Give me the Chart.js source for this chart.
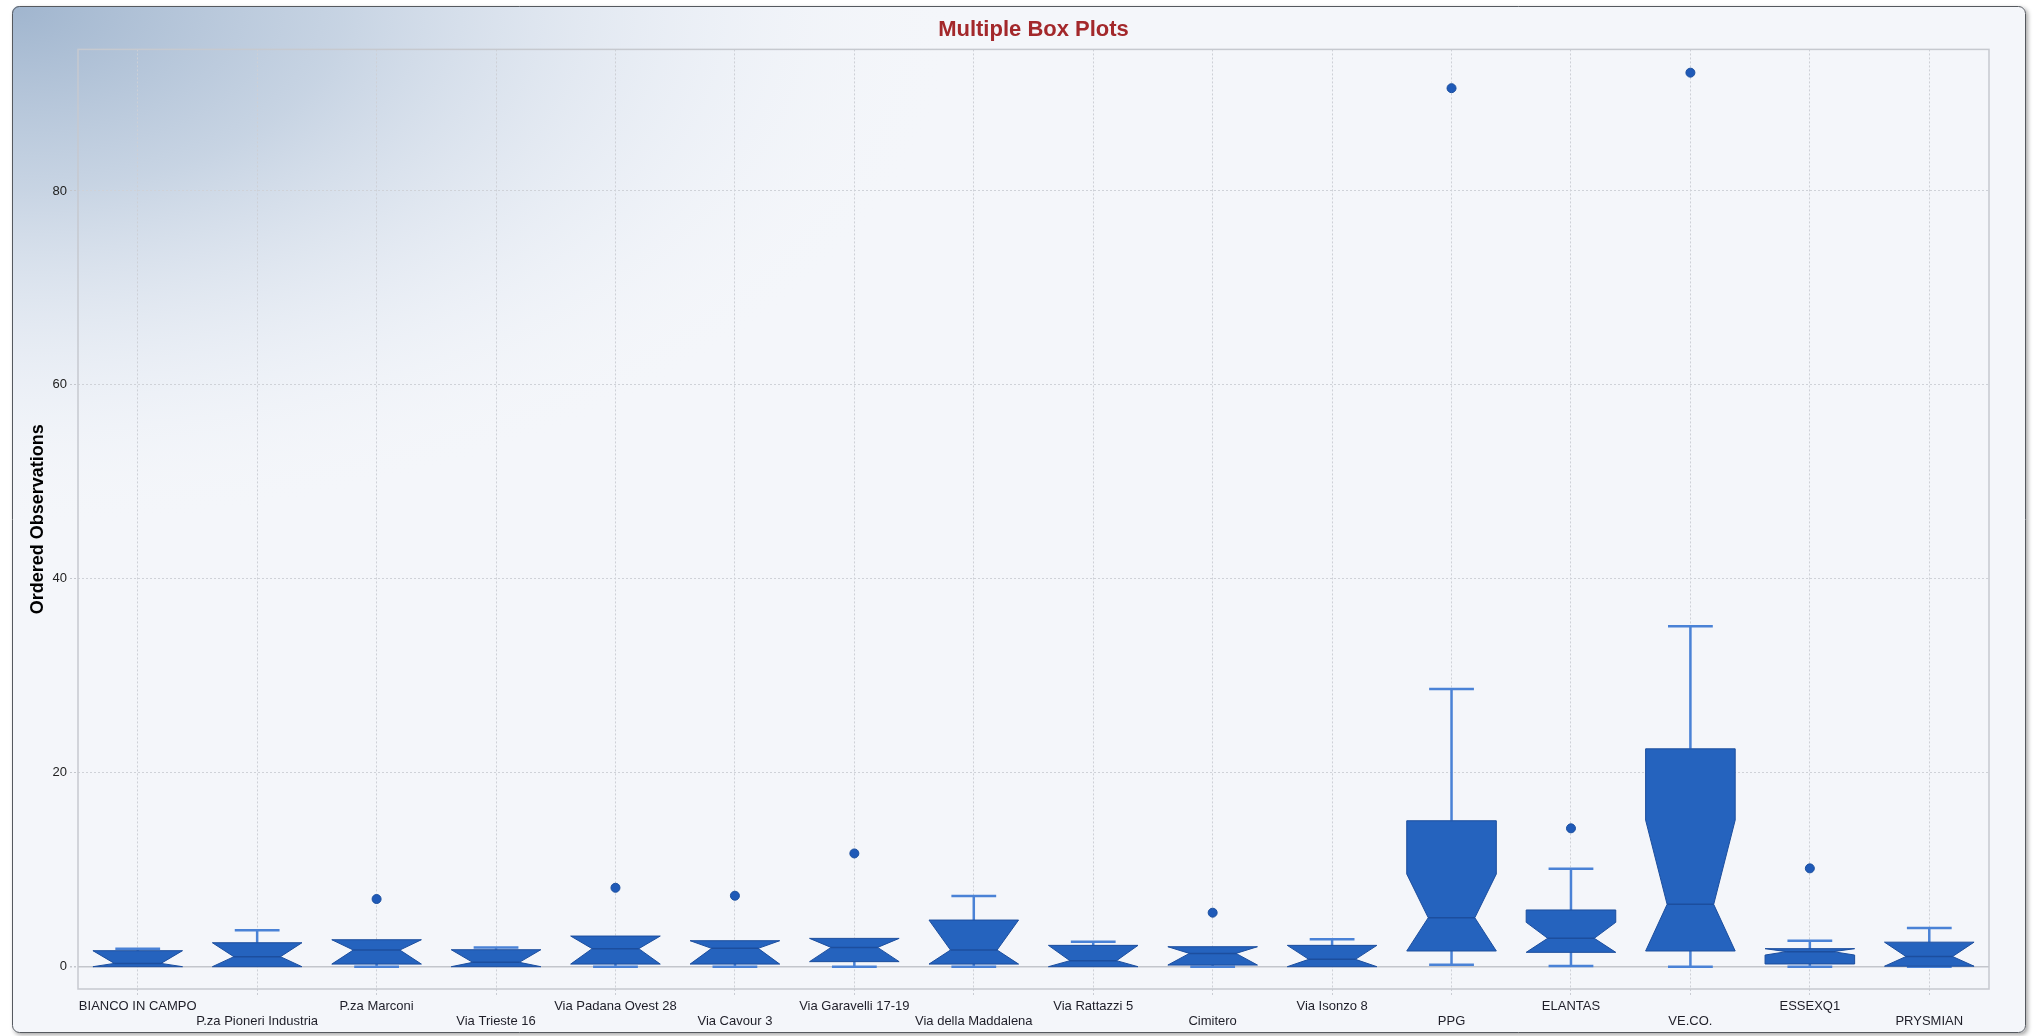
<!DOCTYPE html>
<html>
<head>
<meta charset="utf-8">
<title>Multiple Box Plots</title>
<script src="https://cdn.jsdelivr.net/npm/chart.js@4.4.1/dist/chart.umd.min.js"></script>
<style>
  html, body { margin: 0; padding: 0; background: #ffffff; }
  #wrap { position: relative; width: 2034px; height: 1036px; }
</style>
</head>
<body>
<div id="wrap"><canvas id="boxChart"></canvas></div>
<script>
// Sites, left to right
const categories = [
    'BIANCO IN CAMPO', 'P.za Pioneri Industria', 'P.za Marconi', 'Via Trieste 16',
    'Via Padana Ovest 28', 'Via Cavour 3', 'Via Garavelli 17-19', 'Via della Maddalena',
    'Via Rattazzi 5', 'Cimitero', 'Via Isonzo 8', 'PPG', 'ELANTAS', 'VE.CO.', 'ESSEXQ1', 'PRYSMIAN'
];

// Box plot statistics
const whiskerLow  = [0, 0, 0, 0, 0, 0, 0, 0, 0, 0, 0, 0.21, 0.07, 0, 0, 0];
const q1          = [0, 0, 0.27, 0, 0.27, 0.27, 0.52, 0.27, 0, 0.17, 0, 1.62, 1.48, 1.62, 0.28, 0.05];
const notchLow    = [0, 0, 0.27, 0, 0.27, 0.27, 0.52, 0.27, 0, 0.17, 0, 1.62, 1.48, 1.62, 1.2, 0.05];
const median      = [0.34, 1.03, 1.72, 0.45, 1.86, 1.89, 1.99, 1.72, 0.62, 1.37, 0.76, 5.05, 2.93, 6.43, 1.55, 1.05];
const notchHigh   = [1.65, 2.47, 2.78, 1.75, 3.16, 2.68, 2.92, 4.81, 2.2, 2.06, 2.2, 9.56, 4.58, 15.12, 1.86, 2.53];
const q3          = [1.65, 2.47, 2.78, 1.75, 3.16, 2.68, 2.92, 4.81, 2.2, 2.06, 2.2, 15.05, 5.85, 22.47, 1.86, 2.53];
const whiskerHigh = [1.86, 3.75, 2.78, 1.99, 3.16, 2.68, 2.92, 7.29, 2.58, 2.06, 2.82, 28.63, 10.1, 35.12, 2.68, 3.99];
const outliers    = [null, null, 6.98, null, 8.14, 7.32, 11.68, null, null, 5.57, null, 90.6, 14.27, 92.2, 10.14, null];

// Y axis ticks
const yTicks = [0, 20, 40, 60, 80];

const boxFill = '#2563be';
const boxEdge = '#1c4e9e';
const whiskerColor = '#4a82d6';

// Background: framed panel with a soft blue gradient from the top-left corner
const panelBackground = {
    id: 'panelBackground',
    beforeDraw(chart) {
        const ctx = chart.ctx;
        const x0 = 12, y0 = 6, x1 = 2026, y1 = 1033, r = 7;
        ctx.save();
        ctx.beginPath();
        ctx.roundRect(x0, y0, x1 - x0, y1 - y0, r);
        ctx.shadowColor = 'rgba(0,0,0,0.35)';
        ctx.shadowBlur = 4;
        ctx.shadowOffsetX = 2;
        ctx.shadowOffsetY = 2;
        ctx.fillStyle = '#f4f6fa';
        ctx.fill();
        ctx.shadowColor = 'transparent';
        ctx.clip();
        // elliptical glow from the corner
        ctx.save();
        ctx.translate(x0, y0);
        ctx.scale(1, 0.55);
        const g = ctx.createRadialGradient(0, 0, 0, 0, 0, 950);
        g.addColorStop(0, 'rgba(160,181,206,1)');
        g.addColorStop(0.35, 'rgba(193,207,224,0.88)');
        g.addColorStop(0.75, 'rgba(228,234,243,0.45)');
        g.addColorStop(1, 'rgba(244,246,250,0)');
        ctx.fillStyle = g;
        ctx.fillRect(0, 0, 1100, 1100);
        ctx.restore();
        ctx.restore();
        ctx.save();
        ctx.beginPath();
        ctx.roundRect(x0 + 0.5, y0 + 0.5, x1 - x0 - 1, y1 - y0 - 1, r);
        ctx.strokeStyle = '#55595f';
        ctx.lineWidth = 1;
        ctx.stroke();
        ctx.restore();
    },
    afterDraw(chart) {
        const a = chart.chartArea;
        const ctx = chart.ctx;
        ctx.save();
        ctx.strokeStyle = '#c6c9cf';
        ctx.lineWidth = 1.5;
        ctx.strokeRect(a.left, a.top, a.right - a.left, a.bottom - a.top);
        ctx.restore();
    }
};

// Notched boxes and whiskers, placed on the bar elements of the box dataset
const notchedBoxes = {
    id: 'notchedBoxes',
    beforeDatasetsDraw(chart) {
        const ctx = chart.ctx;
        const y = chart.scales.y;
        const meta = chart.getDatasetMeta(0);
        meta.data.forEach((bar, i) => {
            const cx = bar.x;
            const hw = bar.width / 2;
            const ind = hw * 0.48;
            const py = v => y.getPixelForValue(v);

            // whiskers
            ctx.save();
            ctx.strokeStyle = whiskerColor;
            ctx.lineWidth = 2.5;
            ctx.beginPath();
            if (whiskerHigh[i] > q3[i]) {
                ctx.moveTo(cx, py(q3[i]));
                ctx.lineTo(cx, py(whiskerHigh[i]));
                ctx.moveTo(cx - hw / 2, py(whiskerHigh[i]));
                ctx.lineTo(cx + hw / 2, py(whiskerHigh[i]));
            }
            if (whiskerLow[i] < q1[i]) {
                ctx.moveTo(cx, py(q1[i]));
                ctx.lineTo(cx, py(whiskerLow[i]));
                ctx.moveTo(cx - hw / 2, py(whiskerLow[i]));
                ctx.lineTo(cx + hw / 2, py(whiskerLow[i]));
            }
            ctx.stroke();
            ctx.restore();

            // notched box
            ctx.save();
            ctx.beginPath();
            ctx.moveTo(cx - hw, py(q3[i]));
            ctx.lineTo(cx + hw, py(q3[i]));
            ctx.lineTo(cx + hw, py(notchHigh[i]));
            ctx.lineTo(cx + hw - ind, py(median[i]));
            ctx.lineTo(cx + hw, py(notchLow[i]));
            ctx.lineTo(cx + hw, py(q1[i]));
            ctx.lineTo(cx - hw, py(q1[i]));
            ctx.lineTo(cx - hw, py(notchLow[i]));
            ctx.lineTo(cx - hw + ind, py(median[i]));
            ctx.lineTo(cx - hw, py(notchHigh[i]));
            ctx.closePath();
            ctx.fillStyle = boxFill;
            ctx.fill();
            ctx.strokeStyle = boxEdge;
            ctx.lineWidth = 1;
            ctx.stroke();
            // median
            ctx.beginPath();
            ctx.moveTo(cx - hw + ind, py(median[i]));
            ctx.lineTo(cx + hw - ind, py(median[i]));
            ctx.strokeStyle = boxEdge;
            ctx.lineWidth = 1.5;
            ctx.stroke();
            ctx.restore();
        });
    }
};

Chart.defaults.font.family = "'Liberation Sans', Arial, sans-serif";

new Chart(document.getElementById('boxChart'), {
    type: 'bar',
    data: {
        labels: categories,
        datasets: [
            {
                label: 'Box',
                data: categories.map((_, i) => [q1[i], q3[i]]),
                backgroundColor: 'rgba(0,0,0,0)',
                borderWidth: 0,
                barPercentage: 0.75,
                categoryPercentage: 1.0
            },
            {
                type: 'line',
                label: 'Outliers',
                data: outliers,
                showLine: false,
                pointRadius: 4.5,
                pointHoverRadius: 4.5,
                pointBackgroundColor: '#1f5ab8',
                pointBorderColor: '#1b4f9f',
                pointBorderWidth: 1
            }
        ]
    },
    options: {
        responsive: true,
        maintainAspectRatio: false,
        animation: false,
        layout: { padding: { left: 14, right: 45, top: 0, bottom: 4 } },
        plugins: {
            legend: { display: false },
            tooltip: { enabled: false },
            title: {
                display: true,
                text: 'Multiple Box Plots',
                fullSize: false,
                color: '#a3282b',
                font: { size: 22, weight: 'bold' },
                padding: { top: 17, bottom: 6 }
            }
        },
        scales: {
            x: {
                offset: true,
                grid: {
                    offset: false,
                    color: '#cdd0d6',
                    tickLength: 8,
                    tickBorderDash: [2, 2],
                    tickColor: '#c9ccd3'
                },
                border: { display: false, dash: [2, 2] },
                ticks: {
                    autoSkip: false,
                    maxRotation: 0,
                    minRotation: 0,
                    padding: 2,
                    color: '#1e1e28',
                    font: { size: 13, lineHeight: 1.15 },
                    callback: (v, i) => i % 2 === 0 ? [categories[i]] : ['', categories[i]]
                },
                afterFit: scale => { scale.height = 43; }
            },
            y: {
                min: -2.3,
                max: 94.6,
                afterBuildTicks: scale => { scale.ticks = yTicks.map(v => ({ value: v })); },
                grid: {
                    color: ctx => ctx.tick && ctx.tick.value === 0 ? '#c3c6cc' : '#cfd2d8',
                    lineWidth: ctx => ctx.tick && ctx.tick.value === 0 ? 1.5 : 1,
                    tickLength: 8,
                    tickBorderDash: [2, 2],
                    tickColor: '#c3c6cc'
                },
                border: {
                    display: false,
                    dash: ctx => ctx.tick && ctx.tick.value === 0 ? [] : [2, 2]
                },
                ticks: {
                    padding: 3,
                    color: '#222',
                    font: { size: 13 }
                },
                title: {
                    display: true,
                    text: 'Ordered Observations',
                    color: '#000',
                    font: { size: 18, weight: 'bold' },
                    padding: { top: 13, bottom: 0 }
                },
                afterFit: scale => { scale.width = 64; }
            }
        }
    },
    plugins: [panelBackground, notchedBoxes]
});
</script>
</body>
</html>
